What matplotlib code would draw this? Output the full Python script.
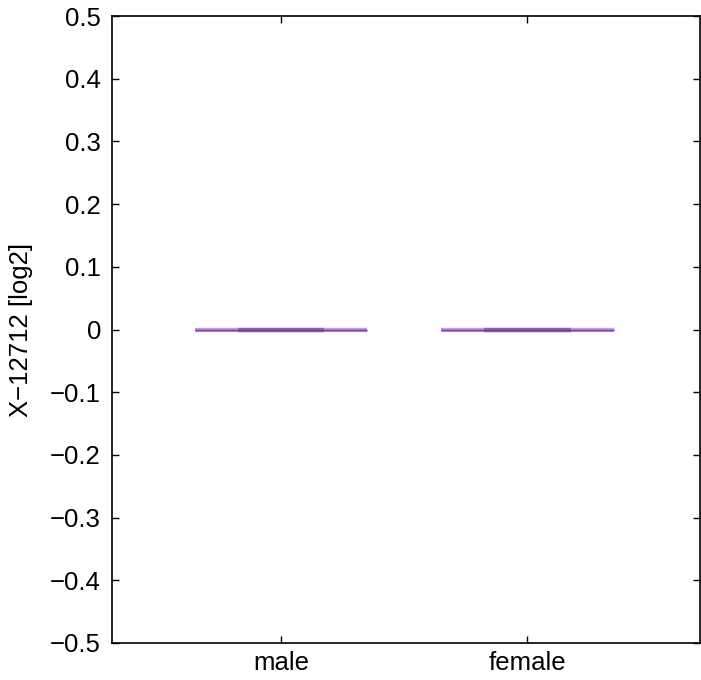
import matplotlib
matplotlib.use("Agg")
import matplotlib.pyplot as plt
import numpy as np

plt.rcParams['font.family'] = ['Liberation Sans', 'DejaVu Sans']

categories = ["male", "female"]
medians = [0.0, 0.0]
q1 = [0.0, 0.0]
q3 = [0.0, 0.0]
whisk_lo = [0.0, 0.0]
whisk_hi = [0.0, 0.0]
ylabel = "X\u221212712 [log2]"
yticks = [-0.5, -0.4, -0.3, -0.2, -0.1, 0, 0.1, 0.2, 0.3, 0.4, 0.5]

fig = plt.figure(figsize=(7.01, 6.80), dpi=100)
ax = fig.add_axes([112/701, 1-643/680, (700-112)/701, (643-16)/680])

pos = np.arange(1, len(categories)+1)
outer = 0.35
inner = 0.175
for p, m, a, b, lo, hi in zip(pos, medians, q1, q3, whisk_lo, whisk_hi):
    # outer (whisker) span
    ax.hlines([lo, hi], p-outer, p+outer, color='#c39be8', lw=3.0, zorder=2)
    # box span
    ax.hlines([a, b], p-inner, p+inner, color='#8a64a8', lw=3.0, zorder=3)
    # median line
    ax.hlines(m, p-outer, p+outer, color='#4a3ad0', lw=1.0, zorder=4)
    ax.hlines(m, p-outer, p+outer, color='#b03070', lw=0.5, zorder=5)

ax.set_xlim(0.315, 2.70)
ax.set_ylim(-0.5, 0.5)
ax.set_xticks(pos)
ax.set_xticklabels(categories)
ax.set_yticks(yticks)
ax.set_yticklabels(["0" if t == 0 else ("%.1f" % t).replace("-", "\u2212") for t in yticks])
ax.tick_params(axis='both', direction='in', length=5, width=1, top=True, right=True,
               labelsize=18.5, colors='black')
ax.tick_params(axis='y', pad=8)
ax.tick_params(axis='x', pad=6)
for s in ax.spines.values():
    s.set_linewidth(1.2)
ax.set_ylabel(ylabel, fontsize=18.5, labelpad=12)

fig.savefig("out.png", dpi=100)
